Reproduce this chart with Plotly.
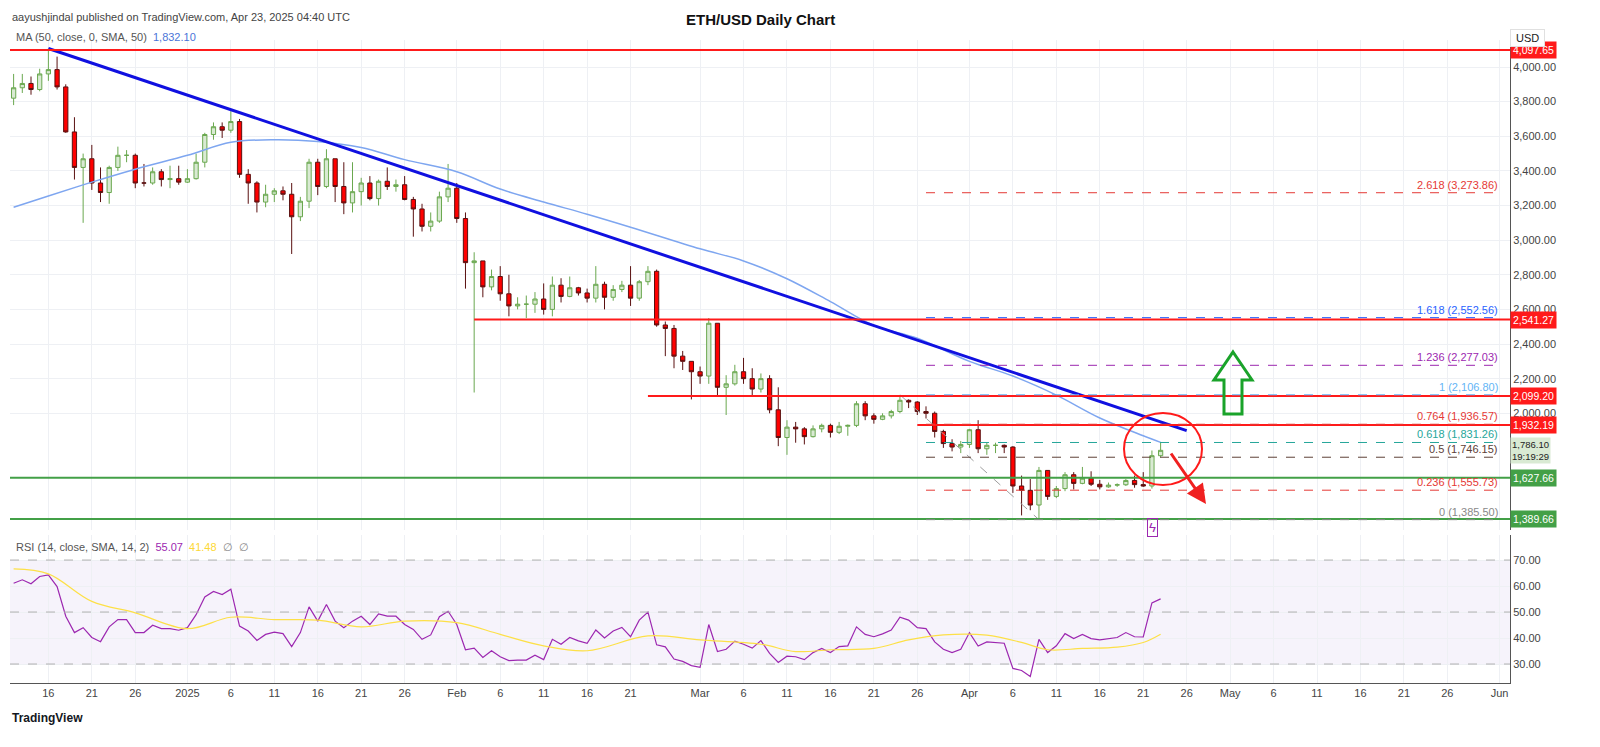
import plotly.graph_objects as go
import pandas as pd

dates = pd.date_range("2024-12-12", "2025-04-23", freq="D")
opens = [3820,3880,3905,3870,3960,3985,3885,3625,3420,3470,3330,3275,3420,3490,3490,3330,3330,3395,3350,3355,
 3335,3355,3450,3610,3655,3635,3685,3380,3330,3220,3265,3285,3265,3135,3225,3450,3310,3470,3310,3215,3280,3330,3240,3340,3310,3320,3235,3180,3080,3110,3250,
 3300,3125,2870,2880,2730,2790,2690,2620,2630,2630,2660,2600,2740,2675,2725,2695,2665,2745,2670,2715,2740,2665,2760,2820,2510,2490,2330,2300,
 2240,2215,2520,2150,2170,2240,2200,2140,2200,2020,1860,1920,1910,1865,1910,1930,1890,1925,1930,2055,1985,1965,1985,2010,2075,2065,2010,2000,1895,1825,1805,
 1820,1905,1795,1815,1815,1805,1580,1555,1470,1670,1520,1565,1645,1595,1625,1590,1575,1585,1587,1612,1588,1580,1755]
highs = [3960,3960,3945,3990,4107,4060,3900,3710,3500,3550,3420,3430,3540,3520,3500,3440,3420,3410,3430,3430,
 3410,3500,3620,3680,3680,3745,3700,3410,3340,3320,3300,3310,3330,3250,3470,3470,3525,3470,3450,3450,3360,3370,3350,3420,3350,3370,3250,3210,3160,3280,3440,
 3330,3160,2930,2880,2830,2850,2800,2670,2680,2700,2750,2790,2780,2790,2730,2720,2850,2760,2740,2765,2850,2770,2850,2830,2530,2510,2360,2300,
 2270,2550,2520,2220,2280,2320,2260,2230,2220,2150,1960,1950,1920,1930,1940,1940,1950,1935,2070,2070,2000,2000,2020,2100,2080,2070,2040,2010,1905,1850,1840,
 1910,1960,1830,1830,1820,1810,1640,1620,1690,1670,1580,1660,1660,1690,1665,1615,1600,1595,1620,1640,1660,1785,1830]
lows = [3780,3850,3840,3860,3920,3870,3620,3350,3100,3290,3220,3210,3400,3450,3300,3310,3320,3310,3300,3320,
 3330,3350,3420,3580,3590,3620,3360,3210,3160,3190,3220,3230,2920,3110,3185,3260,3300,3220,3150,3160,3200,3230,3200,3290,3280,3230,3020,3050,3050,3100,3220,
 3100,2720,2120,2670,2710,2650,2560,2600,2550,2580,2570,2560,2640,2670,2680,2640,2640,2600,2650,2700,2620,2650,2740,2500,2330,2260,2250,2080,
 2170,2170,2100,1990,2160,2170,2100,2120,2000,1810,1760,1830,1820,1860,1890,1860,1880,1870,1920,1960,1940,1960,1970,2000,2030,1990,1970,1860,1800,1780,1770,
 1800,1770,1760,1770,1770,1540,1410,1440,1385,1500,1510,1550,1560,1590,1580,1560,1570,1575,1580,1570,1575,1565,1745]
closes = [3880,3905,3870,3960,3985,3885,3625,3420,3470,3330,3275,3420,3490,3490,3330,3330,3395,3350,3355,3335,
 3355,3450,3610,3655,3635,3685,3380,3330,3220,3265,3285,3265,3135,3225,3450,3310,3470,3310,3215,3280,3330,3240,3340,3310,3320,3235,3180,3080,3110,3250,3300,
 3125,2870,2880,2730,2790,2690,2620,2630,2630,2660,2600,2740,2675,2725,2695,2665,2745,2670,2715,2740,2665,2760,2820,2510,2490,2330,2300,2240,
 2215,2520,2150,2170,2240,2200,2140,2200,2020,1860,1920,1910,1865,1910,1930,1890,1925,1930,2055,1985,1965,1985,2010,2075,2065,2010,2000,1895,1825,1805,1820,
 1905,1795,1815,1815,1805,1580,1555,1470,1670,1520,1565,1645,1595,1625,1590,1575,1585,1587,1612,1588,1580,1755,1786]

ma_dates = ["2024-12-12","2024-12-16","2024-12-21","2024-12-26","2025-01-01","2025-01-06","2025-01-11","2025-01-16",
 "2025-01-21","2025-01-26","2025-02-01","2025-02-06","2025-02-11","2025-02-16","2025-02-21","2025-03-01","2025-03-06",
 "2025-03-11","2025-03-16","2025-03-21","2025-03-26","2025-04-01","2025-04-06","2025-04-11","2025-04-16","2025-04-21","2025-04-23"]
ma_vals = [3190,3255,3335,3410,3490,3565,3580,3570,3535,3465,3395,3295,3220,3150,3075,2950,2880,2777,2645,2507,2433,2300,2215,2105,1973,1870,1832]

rsi = [61.1,62.4,60.9,63.7,64.3,59.8,48.4,42.1,44.0,40.2,38.6,44.3,47.1,47.1,42.1,42.1,44.9,43.6,43.6,43.0,
 44.0,49.0,55.8,57.9,56.7,58.8,44.6,42.7,39.1,41.4,42.3,41.7,36.7,42.1,52.0,46.5,52.9,46.5,44.0,46.5,48.4,45.2,49.3,48.4,48.4,45.2,43.3,39.5,41.2,48.2,50.3,
 45.2,35.5,36.1,32.5,35.1,32.8,31.3,31.5,31.5,33.4,31.7,39.5,37.6,40.2,38.9,38.0,43.1,40.0,42.7,44.1,40.5,46.9,50.0,37.4,36.6,31.9,31.0,29.4,
 28.7,45.2,34.8,35.7,38.8,37.6,36.1,39.0,34.1,30.6,33.0,32.8,31.7,34.4,36.0,34.4,36.7,37.0,44.3,41.4,40.5,41.6,43.1,48.0,46.9,44.0,43.6,38.5,35.7,34.4,35.7,
 42.1,36.9,38.5,38.3,38.0,28.3,27.5,25.2,39.5,34.4,37.0,41.7,39.8,41.4,39.8,39.3,39.8,40.2,42.1,40.5,40.4,53.5,55.07]
sig_dates = ["2024-12-12","2024-12-16","2024-12-21","2024-12-26","2025-01-01","2025-01-06","2025-01-11","2025-01-16","2025-01-21",
 "2025-01-26","2025-02-01","2025-02-06","2025-02-11","2025-02-16","2025-02-23","2025-03-01","2025-03-08","2025-03-12","2025-03-16",
 "2025-03-21","2025-03-25","2025-03-29","2025-04-03","2025-04-07","2025-04-10","2025-04-14","2025-04-18","2025-04-21","2025-04-23"]
sig_vals = [66.6,64.7,54.1,49.7,43.6,48.0,47.1,46.9,44.3,46.5,45.9,41.4,37.0,35.1,40.8,39.3,37.6,34.8,35.5,36.0,39.3,41.2,41.1,38.3,35.5,36.0,36.5,38.3,41.48]

red_levels = [(4097.65, "2024-12-11"), (2541.27, "2025-02-03"), (2099.20, "2025-02-23"), (1932.19, "2025-03-26")]
green_levels = [(1627.66, "2024-12-11"), (1389.66, "2024-12-11")]
fib_ratios = ["2.618", "1.618", "1.236", "1", "0.764", "0.618", "0.5", "0.236", "0"]
fib_prices = [3273.86, 2552.56, 2277.03, 2106.80, 1936.57, 1831.26, 1746.15, 1555.73, 1385.50]
fib_colors = ["#e53935", "#2962ff", "#9c27b0", "#64b5f6", "#e53935", "#26a69a", "#5d4037", "#e53935", "#888888"]
trend = (("2024-12-16", 4107), ("2025-04-26", 1900))
price_ticks = list(range(2000, 4001, 200))

tick_dates = ["2024-12-16","2024-12-21","2024-12-26","2025-01-01","2025-01-06","2025-01-11","2025-01-16","2025-01-21","2025-01-26",
 "2025-02-01","2025-02-06","2025-02-11","2025-02-16","2025-02-21","2025-03-01","2025-03-06","2025-03-11","2025-03-16","2025-03-21",
 "2025-03-26","2025-04-01","2025-04-06","2025-04-11","2025-04-16","2025-04-21","2025-04-26","2025-05-01","2025-05-06","2025-05-11",
 "2025-05-16","2025-05-21","2025-05-26","2025-06-01"]
tick_text = ["16","21","26","2025","6","11","16","21","26","Feb","6","11","16","21","Mar","6","11","16","21","26","Apr","6","11","16",
 "21","26","May","6","11","16","21","26","Jun"]

XR = ["2024-12-11 14:00", "2025-06-02 05:00"]
FONT = "Liberation Sans, Arial"
fig = go.Figure()
fig.add_trace(go.Candlestick(x=dates, open=opens, high=highs, low=lows, close=closes,
    increasing=dict(line=dict(color="#6aa84f", width=1), fillcolor="#d9ead3"),
    decreasing=dict(line=dict(color="#5a1010", width=1), fillcolor="#ff0000"),
    whiskerwidth=0, xaxis="x", yaxis="y", showlegend=False))
fig.add_trace(go.Scatter(x=pd.to_datetime(ma_dates), y=ma_vals, mode="lines", line=dict(color="#7ea6f0", width=1.5, shape="spline"),
    xaxis="x", yaxis="y", showlegend=False))
fig.add_trace(go.Scatter(x=[pd.Timestamp(trend[0][0]), pd.Timestamp(trend[1][0])], y=[trend[0][1], trend[1][1]], mode="lines",
    line=dict(color="#1010e0", width=3), xaxis="x", yaxis="y", showlegend=False))
fig.add_trace(go.Scatter(x=[pd.Timestamp("2025-03-24"), pd.Timestamp("2025-04-09")], y=[fib_prices[3], fib_prices[8]], mode="lines",
    line=dict(color="#9e9e9e", width=1, dash="dash"), xaxis="x", yaxis="y", showlegend=False))
for p, d in red_levels:
    fig.add_trace(go.Scatter(x=[pd.Timestamp(d), pd.Timestamp(XR[1])], y=[p, p], mode="lines", line=dict(color="#ff1a1a", width=2),
        xaxis="x", yaxis="y", showlegend=False))
for p, d in green_levels:
    fig.add_trace(go.Scatter(x=[pd.Timestamp(d), pd.Timestamp(XR[1])], y=[p, p], mode="lines", line=dict(color="#43a047", width=2),
        xaxis="x", yaxis="y", showlegend=False))
for r, p, c in zip(fib_ratios, fib_prices, fib_colors):
    fig.add_trace(go.Scatter(x=[pd.Timestamp("2025-03-27"), pd.Timestamp("2025-06-01")], y=[p, p], mode="lines",
        line=dict(color=c, width=1, dash="dash"), xaxis="x", yaxis="y", showlegend=False))
    fig.add_annotation(x="2025-06-01", y=p, xref="x", yref="y", text=f"{r} ({p:,.2f})", showarrow=False,
        xanchor="right", yanchor="bottom", font=dict(color=c, size=11, family=FONT))

fig.add_trace(go.Scatter(x=dates, y=rsi, mode="lines", line=dict(color="#9c27b0", width=1.2), xaxis="x2", yaxis="y2", showlegend=False))
fig.add_trace(go.Scatter(x=pd.to_datetime(sig_dates), y=sig_vals, mode="lines", line=dict(color="#fde047", width=1.2, shape="spline"),
    xaxis="x2", yaxis="y2", showlegend=False))
fig.add_shape(type="rect", xref="x2 domain", yref="y2", x0=0, x1=1, y0=30, y1=70, fillcolor="rgba(126,87,194,0.07)", line_width=0, layer="below")
for lv in [30, 50, 70]:
    fig.add_shape(type="line", xref="x2 domain", yref="y2", x0=0, x1=1, y0=lv, y1=lv, line=dict(color="#b0b0b0", width=1, dash="dash"))

PD = [0.238, 1.0]
RD = [0.0, 0.230]
grid = "#eef0f4"
fig.update_layout(
    width=1592, height=739, margin=dict(l=2, r=90, t=32, b=64), plot_bgcolor="white", paper_bgcolor="white",
    font=dict(family=FONT, size=11, color="#333"),
    xaxis=dict(domain=[0, 1], range=XR, type="date", rangeslider=dict(visible=False), showticklabels=False,
               tickvals=tick_dates, showgrid=True, gridcolor=grid, anchor="y", matches="x2"),
    yaxis=dict(domain=PD, range=[1326, 4156], side="right", tickvals=price_ticks,
               ticktext=[f"{v:,.2f}" for v in price_ticks], showgrid=True, gridcolor=grid,
               showline=True, linecolor="#555", tickfont=dict(size=11, color="#444"), anchor="x"),
    xaxis2=dict(domain=[0, 1], range=XR, type="date", tickvals=tick_dates, ticktext=tick_text, showgrid=True, gridcolor=grid,
                anchor="y2", showline=True, linecolor="#555", tickfont=dict(size=11, color="#444")),
    yaxis2=dict(domain=RD, range=[22.7, 79.6], side="right", tickvals=[30, 40, 50, 60, 70],
                ticktext=["30.00", "40.00", "50.00", "60.00", "70.00"], showgrid=True, gridcolor=grid,
                showline=True, linecolor="#555", tickfont=dict(size=11, color="#444"), anchor="x2"),
)

def px_x(px):
    return (px - 10) / 1500
def px_y(py):
    return (683 - py) / 643

boxes = [(4097.65, "#ff1a1a"), (2541.27, "#ff1a1a"), (2099.20, "#ff1a1a"), (1932.19, "#ff1a1a"),
         (1627.66, "#43a047"), (1389.66, "#43a047")]
for p, c in boxes:
    fig.add_annotation(x=1.0, y=p, xref="paper", yref="y", text=f"{p:,.2f}", showarrow=False, xanchor="left",
        bgcolor=c, font=dict(color="white", size=10.5, family=FONT), borderpad=2)
fig.add_annotation(x=1.0, y=1786.10, xref="paper", yref="y", text="1,786.10<br>19:19:29", showarrow=False, xanchor="left",
    yanchor="middle", bgcolor="#d9ead3", font=dict(color="#222", size=9.5, family=FONT), borderpad=1, align="left")

fig.add_annotation(x=0.5, y=px_y(9), xref="paper", yref="paper", text="<b>ETH/USD Daily Chart</b>", showarrow=False,
    font=dict(size=15, color="#111", family=FONT))
fig.add_annotation(x=0, y=px_y(9), xref="paper", yref="paper", xanchor="left", showarrow=False,
    text="aayushjindal published on TradingView.com, Apr 23, 2025 04:40 UTC", font=dict(size=11, color="#444", family=FONT))
fig.add_annotation(x=px_x(14), y=px_y(29), xref="paper", yref="paper", xanchor="left", showarrow=False,
    text="MA (50, close, 0, SMA, 50)  <span style='color:#4a74d8'>1,832.10</span>", font=dict(size=11, color="#555", family=FONT))
fig.add_annotation(x=px_x(14), y=px_y(555), xref="paper", yref="paper", xanchor="left", showarrow=False,
    text="RSI (14, close, SMA, 14, 2)  <span style='color:#9c27b0'>55.07</span>  <span style='color:#fdd835'>41.48</span>  <span style='color:#888'>∅  ∅</span>",
    font=dict(size=11, color="#555", family=FONT))
fig.add_annotation(x=1.0, y=px_y(29), xref="paper", yref="paper", xanchor="left", showarrow=False, text=" USD ",
    font=dict(size=11, color="#222", family=FONT), bgcolor="white", bordercolor="#e0e0e0", borderpad=2)
fig.add_annotation(x=0, y=px_y(727), xref="paper", yref="paper", xanchor="left", showarrow=False,
    text="<b>TradingView</b>", font=dict(size=12, color="#131722", family=FONT))
fig.add_annotation(x=px_x(1158), y=px_y(537), xref="paper", yref="paper", showarrow=False, text="ϟ",
    font=dict(size=13, color="#9c27b0"), bordercolor="#9c27b0", borderwidth=1, borderpad=1)

fig.add_shape(type="circle", xref="paper", yref="paper", x0=px_x(1124), x1=px_x(1202), y0=px_y(485), y1=px_y(413),
    line=dict(color="#ff1a1a", width=2))
fig.add_annotation(x=px_x(1206), y=px_y(504), ax=-36, ay=-52, xref="paper", yref="paper", axref="pixel", ayref="pixel",
    showarrow=True, arrowhead=2, arrowsize=1.3, arrowwidth=3, arrowcolor="#f02020", text="")
pts = [(1233, 352), (1252, 380), (1242, 380), (1242, 414), (1224, 414), (1224, 380), (1214, 380)]
path = "M " + " L ".join(f"{px_x(a):.5f},{px_y(b):.5f}" for a, b in pts) + " Z"
fig.add_shape(type="path", xref="paper", yref="paper", path=path, line=dict(color="#1aa32a", width=3), fillcolor="rgba(0,0,0,0)")

fig.write_html("out.html")
